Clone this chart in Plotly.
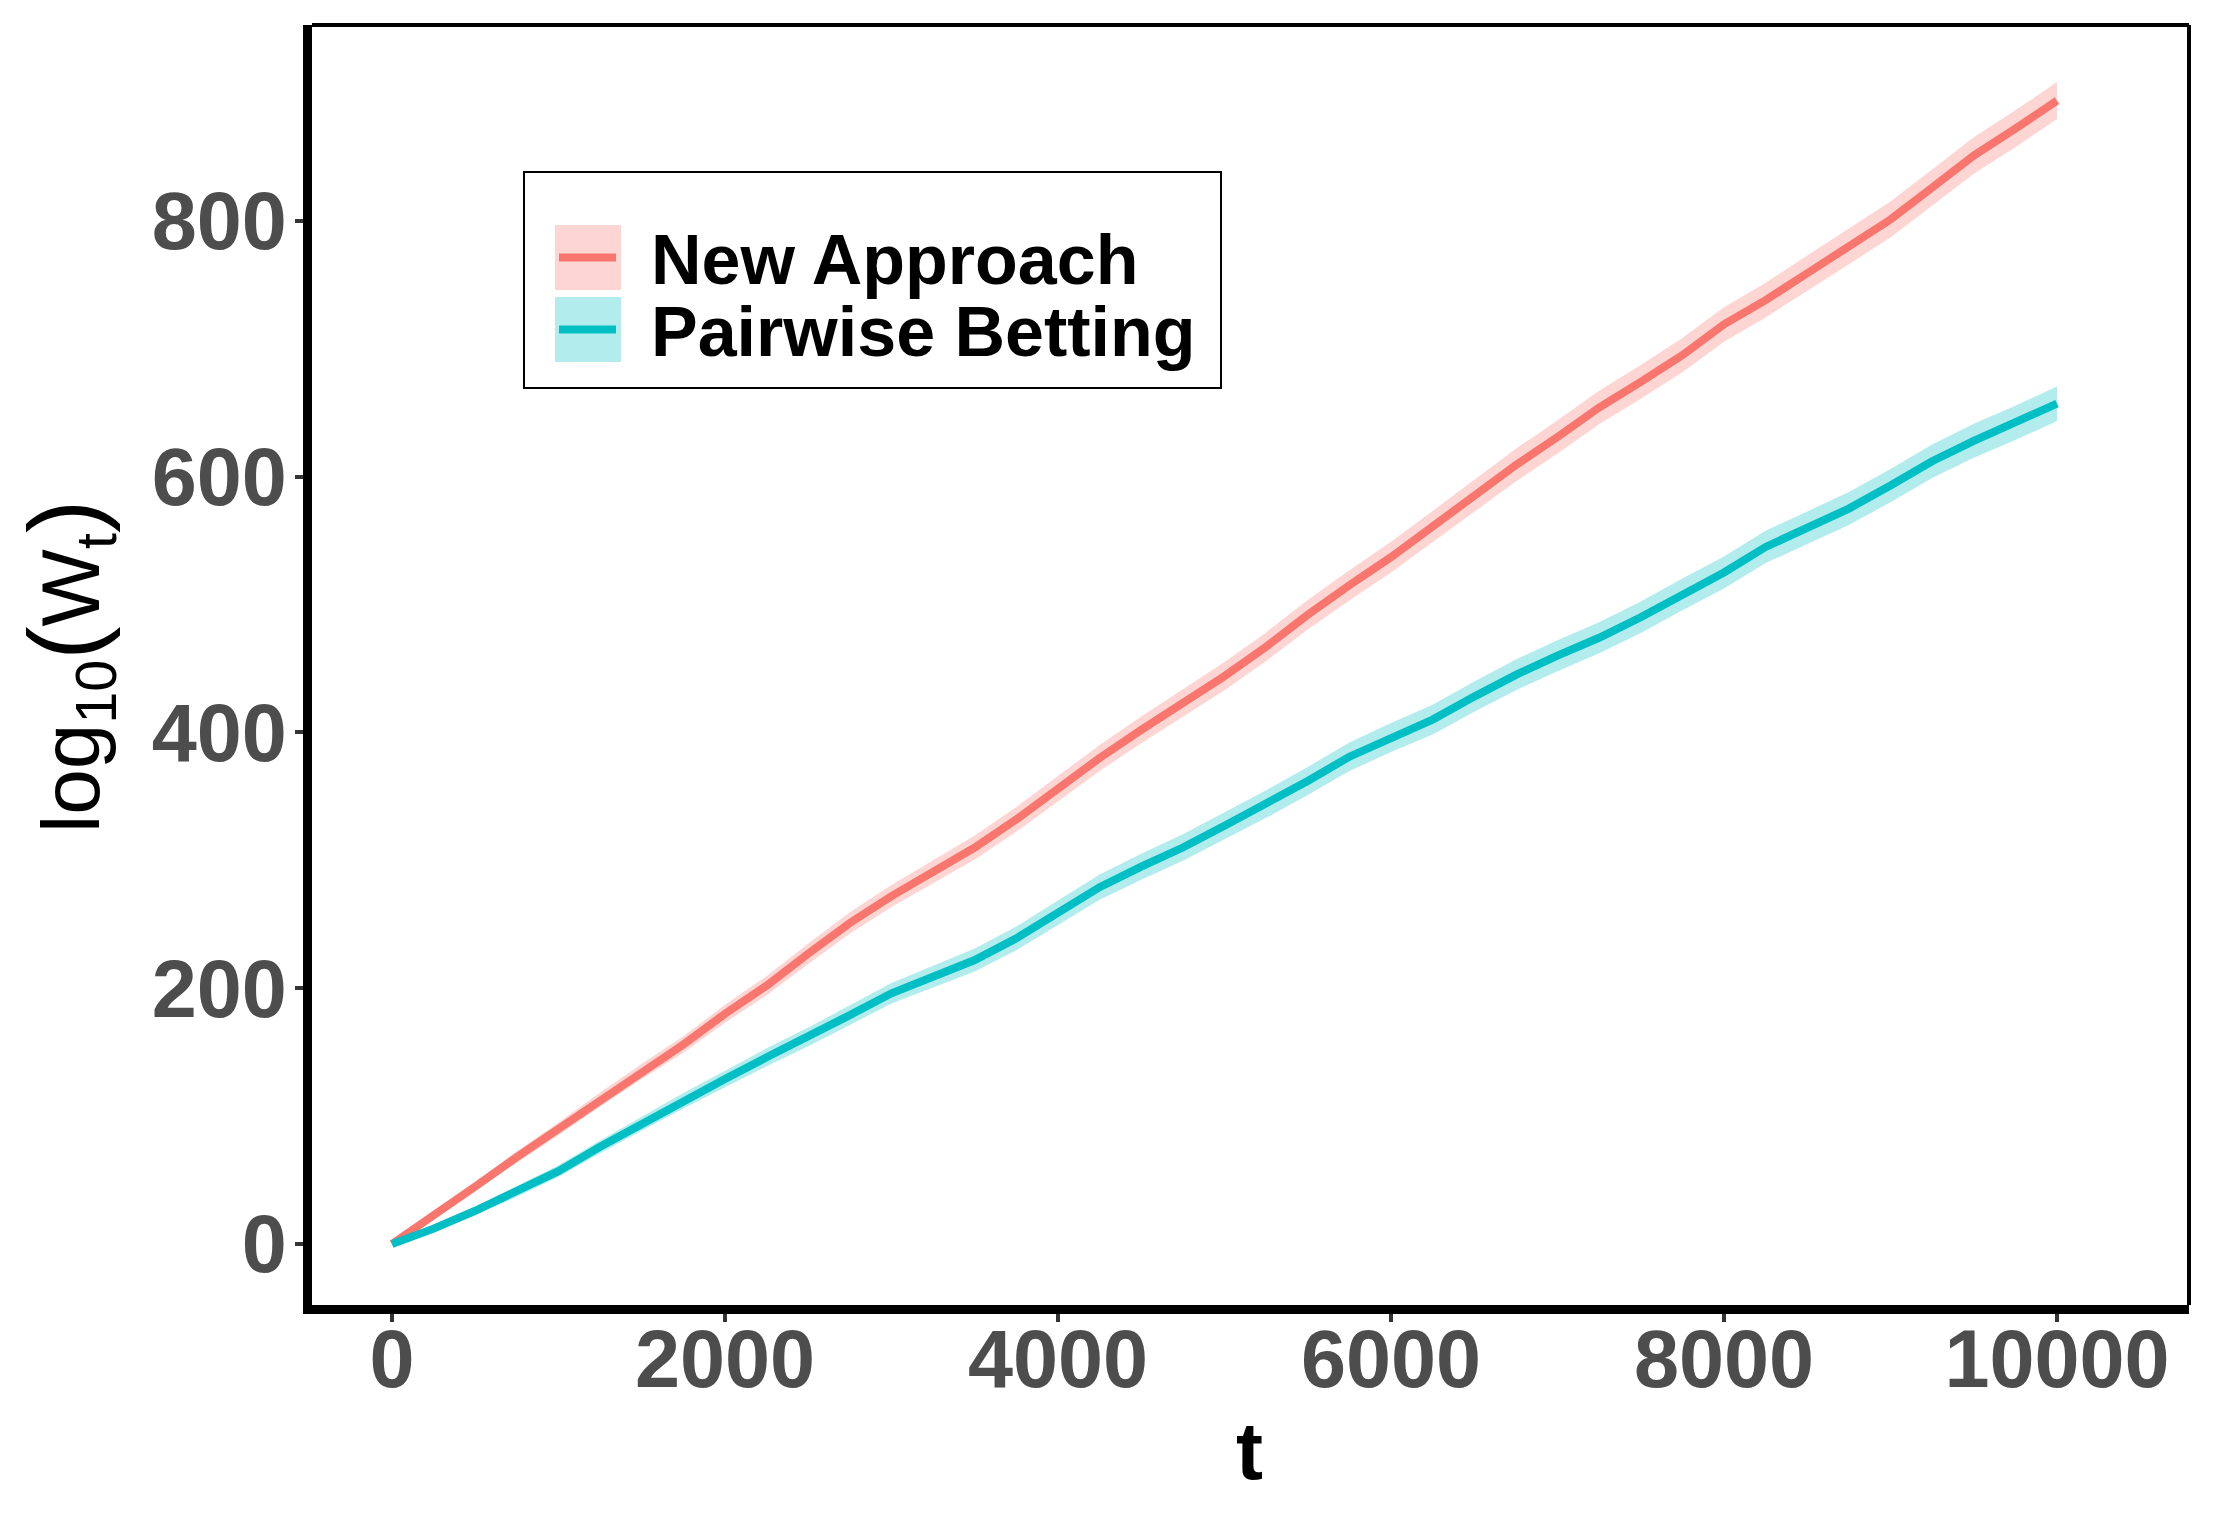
import plotly.graph_objects as go

# ---------------- data ----------------
t_vals = [0, 250, 500, 750, 1000, 1250, 1500, 1750, 2000, 2250, 2500, 2750, 3000,
          3250, 3500, 3750, 4000, 4250, 4500, 4750, 5000, 5250, 5500, 5750, 6000,
          6250, 6500, 6750, 7000, 7250, 7500, 7750, 8000, 8250, 8500, 8750, 9000,
          9250, 9500, 9750, 10000]

new_approach = [0, 22, 45, 68, 90, 113, 135, 156, 180, 202, 227, 251, 272,
                291, 310, 332, 356, 380, 402, 423, 444, 467, 492, 515, 537,
                561, 585, 609, 631, 654, 674, 695, 719, 738, 759, 780, 801,
                826, 851, 872, 894]

pairwise = [0, 12, 26, 41, 57, 76, 94, 112, 129, 146, 162, 179, 196,
            209, 222, 239, 259, 279, 295, 310, 327, 344, 362, 381, 396,
            410, 428, 445, 460, 474, 490, 508, 525, 545, 560, 575, 593,
            612, 628, 642, 657]

# half-width of the shaded band around each mean curve
new_half = [0, 2.5, 3.5, 4.5, 5, 5.5, 6, 6.5, 7, 7.5, 8, 8.3, 8.6,
            9, 9.3, 9.6, 10, 10.2, 10.5, 10.8, 11, 11.2, 11.5, 11.8, 12,
            12.2, 12.5, 12.8, 13, 13.1, 13.2, 13.4, 13.5, 13.6, 13.8, 13.9, 14,
            14.1, 14.3, 14.4, 14.5]

pair_half = [0, 2, 3, 4, 4.5, 5, 5.5, 6, 6.5, 7, 7.3, 7.7, 8,
             8.5, 9, 9.3, 9.6, 9.9, 10.2, 10.4, 10.6, 10.8, 11, 11.2, 11.4,
             11.6, 11.8, 12, 12.1, 12.2, 12.3, 12.4, 12.5, 12.6, 12.8, 12.9, 13,
             13.1, 13.3, 13.4, 13.5]

series_names = ["New Approach", "Pairwise Betting"]
line_colors = ["#F8766D", "#00BFC4"]
fill_colors = ["rgba(248,118,109,0.3)", "rgba(0,191,196,0.3)"]

x_ticks = [0, 2000, 4000, 6000, 8000, 10000]
y_ticks = [0, 200, 400, 600, 800]

# ---------------- layout geometry ----------------
# the page body adds an 8px margin, so page coords = figure coords + OFF
OFF = 8
W, H = 2216, 1520
L, R, T, B = 304, 35, 17, 223
PW, PH = W - L - R, H - T - B


def px(xp):  # page x -> paper
    return (xp - OFF - L) / PW


def py(yp):  # page y -> paper
    return (H - B - (yp - OFF)) / PH


FONT = "Liberation Sans, Arial, Helvetica, sans-serif"

fig = go.Figure()

means = [new_approach, pairwise]
halves = [new_half, pair_half]

# ribbons
for name, m, h, fc in zip(series_names, means, halves, fill_colors):
    upper = [a + b for a, b in zip(m, h)]
    lower = [a - b for a, b in zip(m, h)]
    fig.add_trace(go.Scatter(
        x=t_vals + t_vals[::-1],
        y=upper + lower[::-1],
        fill="toself", fillcolor=fc,
        line=dict(width=0, color="rgba(0,0,0,0)"),
        mode="lines", hoverinfo="skip", showlegend=False, name=name + " band"))

# mean lines
for name, m, lc in zip(series_names, means, line_colors):
    fig.add_trace(go.Scatter(
        x=t_vals, y=m, mode="lines", name=name,
        line=dict(color=lc, width=8), showlegend=False))

shapes = []
# thin panel border (top and right)
shapes.append(dict(type="line", xref="paper", yref="paper", x0=0, x1=1, y0=1, y1=1,
                   line=dict(color="black", width=4)))
shapes.append(dict(type="line", xref="paper", yref="paper", x0=1, x1=1, y0=0, y1=1,
                   line=dict(color="black", width=4)))

# manual legend (box, keys)
shapes.append(dict(type="rect", xref="paper", yref="paper",
                   x0=px(524), x1=px(1221), y0=py(388), y1=py(172),
                   line=dict(color="black", width=2), fillcolor="white", layer="above"))
key_rows = [(225, 290), (297, 362)]
annotations = []
for (y0, y1), fc, lc, name in zip(key_rows, fill_colors, line_colors, series_names):
    shapes.append(dict(type="rect", xref="paper", yref="paper",
                       x0=px(555), x1=px(621), y0=py(y1), y1=py(y0),
                       line=dict(width=0), fillcolor=fc, layer="above"))
    yc = (y0 + y1) / 2
    shapes.append(dict(type="line", xref="paper", yref="paper",
                       x0=px(559), x1=px(616), y0=py(yc), y1=py(yc),
                       line=dict(color=lc, width=8), layer="above"))
    annotations.append(dict(text=name, xref="paper", yref="paper",
                            x=px(649), y=py(yc + 2), xanchor="left", yanchor="middle",
                            showarrow=False,
                            font=dict(family=FONT, size=70, color="black", weight="bold")))

# axis titles
annotations.append(dict(text="t", xref="paper", yref="paper",
                        x=px(1249), y=py(1451), xanchor="center", yanchor="middle",
                        showarrow=False,
                        font=dict(family=FONT, size=81, color="black", weight="bold")))
annotations.append(dict(
    text=("log<sub>10</sub><span style='font-size:100px'>(</span>"
          "W<sub>t</sub><span style='font-size:100px'>)</span>"),
    xref="paper", yref="paper",
    x=px(68), y=py(666), xanchor="center", yanchor="middle",
    textangle=-90, showarrow=False,
    font=dict(family=FONT, size=82, color="black")))

# reference pixel positions (page coords) of the axis values
x0_px, x10k_px = 392.0, 2057.0
ppu_x = (x10k_px - x0_px) / 10000.0
y0_px, ppu_y = 1244.0, 1.279
left_pg, right_pg = L + OFF, W - R + OFF
top_pg, bot_pg = T + OFF, H - B + OFF

fig.update_layout(
    width=W, height=H,
    margin=dict(l=L, r=R, t=T, b=B, pad=0),
    paper_bgcolor="white", plot_bgcolor="white",
    showlegend=False,
    shapes=shapes, annotations=annotations,
    xaxis=dict(
        range=[(left_pg - x0_px) / ppu_x, (right_pg - x0_px) / ppu_x],
        tickmode="array", tickvals=x_ticks, ticktext=[str(v) for v in x_ticks],
        showgrid=False, zeroline=False,
        showline=True, linecolor="black", linewidth=9,
        ticks="outside", ticklen=8, tickwidth=4, tickcolor="#333333",
        ticklabelstandoff=-32,
        tickfont=dict(family=FONT, size=81, color="#4D4D4D", weight="bold"),
    ),
    yaxis=dict(
        range=[(y0_px - bot_pg) / ppu_y, (y0_px - top_pg) / ppu_y],
        tickmode="array", tickvals=y_ticks, ticktext=[str(v) for v in y_ticks],
        showgrid=False, zeroline=False,
        showline=True, linecolor="black", linewidth=9,
        ticks="outside", ticklen=8, tickwidth=4, tickcolor="#333333",
        ticklabelstandoff=-8,
        tickfont=dict(family=FONT, size=81, color="#4D4D4D", weight="bold"),
    ),
)

fig.write_html("out.html")
